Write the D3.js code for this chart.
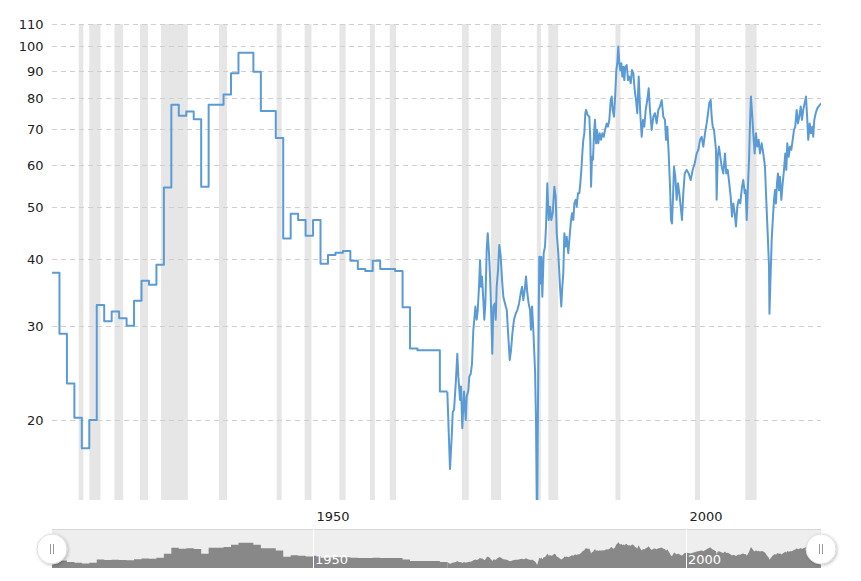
<!DOCTYPE html>
<html><head><meta charset="utf-8">
<script src="https://cdn.jsdelivr.net/npm/d3@7"></script>
<style>body{margin:0;background:#fff;} svg{display:block;font-family:"DejaVu Sans",Verdana,sans-serif;}</style>
</head><body><svg id="c" width="861" height="581"></svg>
<script>
// ---- DATA ----
const annualStartYear = 1915;
const annualValues = [37.7, 29.0, 23.4, 20.2, 17.7, 20.0, 32.8, 30.6, 31.9, 31.0,
  30.0, 33.4, 36.4, 35.8, 39.0, 54.4, 77.7, 74.1, 75.5, 73.0,
  54.6, 77.7, 77.7, 81.2, 89.0, 97.2, 97.2, 89.6, 75.6, 75.6,
  67.3, 43.7, 48.6, 47.3, 44.2, 47.3, 39.2, 40.7, 41.1, 41.4,
  39.7, 38.3, 38.0, 39.7, 38.3, 38.3, 38.0, 32.5, 27.2, 27.0,
  27.0, 27.0, 22.6];
const monthlyYears = [1968.00, 1968.27, 1968.36, 1968.59, 1968.73, 1968.90, 1969.13, 1969.34, 1969.48, 1969.71,
  1969.84, 1970.01, 1970.24, 1970.47, 1970.60, 1970.82, 1970.95, 1971.14, 1971.31, 1971.49,
  1971.62, 1971.76, 1971.94, 1972.08, 1972.25, 1972.39, 1972.52, 1972.65, 1972.83, 1972.96,
  1973.10, 1973.28, 1973.42, 1973.59, 1973.73, 1973.86, 1974.03, 1974.17, 1974.36, 1974.49,
  1974.62, 1974.80, 1974.97, 1975.16, 1975.34, 1975.51, 1975.74, 1975.97, 1976.18, 1976.37,
  1976.54, 1976.72, 1976.94, 1977.17, 1977.39, 1977.61, 1977.84, 1978.02, 1978.19, 1978.38,
  1978.55, 1978.73, 1978.91, 1979.09, 1979.22, 1979.36, 1979.53, 1979.76, 1979.89, 1980.03,
  1980.12, 1980.25, 1980.33, 1980.47, 1980.60, 1980.74, 1980.92, 1981.10, 1981.23, 1981.41,
  1981.59, 1981.77, 1981.94, 1982.13, 1982.35, 1982.53, 1982.67, 1982.88, 1983.11, 1983.28,
  1983.42, 1983.55, 1983.69, 1983.87, 1984.01, 1984.22, 1984.36, 1984.54, 1984.72, 1984.89,
  1985.03, 1985.21, 1985.35, 1985.52, 1985.70, 1985.83, 1985.97, 1986.10, 1986.23, 1986.37,
  1986.50, 1986.60, 1986.82, 1987.04, 1987.17, 1987.27, 1987.40, 1987.53, 1987.67, 1987.80,
  1987.94, 1988.07, 1988.24, 1988.43, 1988.61, 1988.78, 1988.97, 1989.14, 1989.37, 1989.54,
  1989.72, 1989.91, 1990.04, 1990.17, 1990.35, 1990.52, 1990.66, 1990.79, 1990.92, 1991.06,
  1991.19, 1991.33, 1991.46, 1991.59, 1991.73, 1991.86, 1992.05, 1992.23, 1992.40, 1992.59,
  1992.76, 1992.94, 1993.12, 1993.30, 1993.47, 1993.66, 1993.87, 1994.06, 1994.24, 1994.41,
  1994.60, 1994.81, 1995.00, 1995.17, 1995.40, 1995.62, 1995.84, 1996.07, 1996.29, 1996.51,
  1996.74, 1996.96, 1997.18, 1997.32, 1997.49, 1997.68, 1997.86, 1997.99, 1998.12, 1998.26,
  1998.39, 1998.57, 1998.75, 1998.93, 1999.10, 1999.29, 1999.46, 1999.64, 1999.83, 2000.09,
  2000.36, 2000.63, 2000.90, 2001.17, 2001.43, 2001.65, 2001.88, 2002.10, 2002.32, 2002.55,
  2002.77, 2002.95, 2003.12, 2003.31, 2003.44, 2003.58, 2003.75, 2003.89, 2004.02, 2004.11,
  2004.25, 2004.42, 2004.60, 2004.79, 2005.00, 2005.23, 2005.40, 2005.59, 2005.80, 2005.99,
  2006.17, 2006.34, 2006.53, 2006.70, 2006.88, 2007.06, 2007.28, 2007.51, 2007.68, 2007.87,
  2008.00, 2008.14, 2008.27, 2008.45, 2008.58, 2008.71, 2008.89, 2009.02, 2009.21, 2009.38,
  2009.56, 2009.74, 2009.92, 2010.15, 2010.36, 2010.59, 2010.76, 2010.95, 2011.13, 2011.19,
  2011.35, 2011.49, 2011.66, 2011.80, 2011.93, 2012.06, 2012.20, 2012.33, 2012.47, 2012.60,
  2012.78, 2012.96, 2013.14, 2013.31, 2013.45, 2013.58, 2013.77, 2013.94, 2014.12, 2014.30,
  2014.48, 2014.65, 2014.84, 2015.01, 2015.19, 2015.38, 2015.55, 2015.72, 2015.91, 2016.09,
  2016.26, 2016.39, 2016.58, 2016.76, 2016.93, 2017.06, 2017.20, 2017.39, 2017.60, 2017.92,
  2018.10];
const monthlyValues = [22.6, 17.6, 16.2, 18.6, 20.7, 20.9, 23.4, 26.6, 24.1, 21.8,
  23.1, 19.3, 22.6, 20.0, 22.1, 22.7, 24.1, 24.4, 25.5, 29.5,
  30.8, 32.6, 30.8, 32.1, 35.5, 39.8, 35.5, 37.1, 33.5, 30.8,
  33.0, 41.6, 44.7, 41.0, 37.1, 32.6, 26.6, 32.6, 33.0, 30.8,
  35.5, 38.1, 42.5, 40.4, 36.5, 34.0, 33.0, 32.1, 28.6, 25.9,
  27.0, 29.0, 30.8, 31.6, 32.1, 33.0, 34.5, 35.5, 33.5, 35.0,
  37.1, 34.5, 33.0, 32.1, 29.5, 32.6, 29.5, 24.8, 20.0, 12.0,
  18.6, 30.8, 40.4, 36.0, 40.4, 34.0, 41.0, 42.2, 46.0, 55.4,
  47.3, 50.1, 47.3, 48.7, 54.6, 52.3, 44.7, 41.0, 35.5, 32.6,
  35.5, 37.6, 44.7, 42.2, 44.0, 41.0, 43.4, 46.6, 48.7, 47.3,
  50.8, 51.6, 50.1, 53.1, 53.1, 55.4, 58.7, 63.0, 66.8, 68.7,
  74.9, 76.0, 74.3, 73.8, 66.8, 54.6, 62.1, 61.3, 68.7, 72.8,
  65.8, 69.7, 65.8, 68.7, 66.8, 68.7, 67.7, 69.7, 71.7, 70.7,
  72.8, 79.3, 80.5, 76.0, 73.8, 81.6, 90.2, 92.9, 99.8, 92.9,
  90.2, 92.9, 87.7, 91.5, 86.4, 91.5, 92.2, 86.4, 87.7, 85.2,
  90.2, 89.0, 82.8, 79.3, 74.9, 87.7, 74.9, 67.7, 72.8, 70.7,
  76.0, 79.3, 83.4, 76.0, 69.7, 73.8, 74.9, 71.7, 76.0, 77.1,
  79.3, 73.8, 72.8, 66.8, 70.7, 63.0, 54.6, 47.3, 46.6, 52.3,
  59.5, 57.0, 51.6, 55.4, 53.1, 50.1, 47.3, 53.1, 57.8, 58.7,
  57.8, 56.2, 58.7, 60.4, 63.0, 64.0, 66.8, 67.7, 64.9, 68.7,
  71.7, 74.9, 78.2, 79.3, 73.8, 70.7, 69.7, 66.8, 64.0, 51.6,
  62.1, 64.9, 62.1, 59.5, 57.8, 63.0, 57.8, 58.7, 55.4, 52.3,
  48.0, 50.8, 48.7, 46.0, 50.1, 51.6, 50.8, 54.6, 56.2, 53.1,
  53.8, 47.3, 53.1, 61.3, 71.7, 80.5, 73.8, 68.7, 63.0, 68.7,
  64.9, 66.8, 63.0, 65.8, 63.0, 59.5, 51.6, 44.7, 38.7, 31.6,
  37.6, 43.4, 48.0, 51.6, 53.8, 50.8, 55.4, 57.8, 53.8, 57.0,
  51.6, 55.4, 58.7, 63.0, 58.7, 65.8, 62.1, 64.9, 64.0, 66.8,
  69.7, 70.7, 76.0, 71.7, 73.8, 77.1, 72.8, 76.0, 78.2, 80.5,
  72.8, 66.8, 71.7, 68.7, 70.7, 67.7, 72.8, 74.9, 76.5, 77.6,
  78.2];
const recessionStarts = [1918.58, 1920.00, 1923.37, 1926.79, 1929.62, 1937.37, 1945.12, 1948.87, 1953.54,
  1957.62, 1960.29, 1969.96, 1973.87, 1980.00, 1981.54, 1990.54, 2001.21, 2007.96];
const recessionEnds = [1919.21, 1921.50, 1924.54, 1927.87, 1933.21, 1938.46, 1945.79, 1949.79, 1954.37,
  1958.29, 1961.12, 1970.87, 1975.21, 1980.54, 1982.87, 1991.21, 2001.87, 2009.46];
const yTicks = [20, 30, 40, 50, 60, 70, 80, 90, 100, 110];
const xTicks = [1950, 2000];

// ---- CHART ----
const svg = d3.select("#c");
const P = {left: 52, right: 821, top: 24, bottom: 500};
const NAV = {top: 529, bottom: 568};
const x = d3.scaleLinear().domain([1915, 2018.1]).range([P.left, P.right]);
const y = d3.scaleLog().domain([14.17, 110]).range([P.bottom, P.top]);
const yNav = d3.scaleLinear().domain([0, 150]).range([NAV.bottom, NAV.top]);

const annual = annualValues.map((v, i) => ({t: annualStartYear + i, v}));
annual.push({t: monthlyYears[0], v: annualValues[annualValues.length - 1]});
const monthly = monthlyYears.map((t, i) => ({t, v: monthlyValues[i]}));

const defs = svg.append("defs");
defs.append("clipPath").attr("id", "clip").append("rect")
  .attr("x", P.left).attr("y", P.top).attr("width", P.right - P.left).attr("height", P.bottom - P.top);
const f = defs.append("filter").attr("id", "sh").attr("x", "-50%").attr("y", "-50%").attr("width", "200%").attr("height", "200%");
f.append("feDropShadow").attr("dx", 1).attr("dy", 1).attr("stdDeviation", 1.5).attr("flood-color", "#000").attr("flood-opacity", 0.25);

// recession bars
svg.append("g").selectAll("rect").data(recessionStarts).join("rect")
  .attr("x", (d) => x(d))
  .attr("width", (d, i) => x(recessionEnds[i]) - x(d))
  .attr("y", P.top).attr("height", P.bottom - P.top)
  .attr("fill", "#e6e6e6");

// y grid + labels
const yAxis = svg.append("g");
yAxis.selectAll("line").data(yTicks).join("line")
  .attr("x1", P.left).attr("x2", P.right)
  .attr("y1", (d) => Math.round(y(d)) + 0.5).attr("y2", (d) => Math.round(y(d)) + 0.5)
  .attr("stroke", "#cfcfcf").attr("stroke-width", 1).attr("stroke-dasharray", "5,4");
yAxis.selectAll("text").data(yTicks).join("text")
  .attr("x", 43.5).attr("y", (d) => y(d) + 5)
  .attr("text-anchor", "end").attr("font-size", 13).attr("fill", "#222")
  .text((d) => d);

// x labels
svg.append("g").selectAll("text").data(xTicks).join("text")
  .attr("x", (d) => x(d) + 20).attr("y", 520.5)
  .attr("text-anchor", "middle").attr("font-size", 13).attr("fill", "#222")
  .text((d) => d);

// series
const g = svg.append("g").attr("clip-path", "url(#clip)");
g.append("path").datum(annual)
  .attr("d", d3.line().x((d) => x(d.t)).y((d) => y(d.v)).curve(d3.curveStepAfter))
  .attr("fill", "none").attr("stroke", "#5b9bd5").attr("stroke-width", 2).attr("stroke-linejoin", "round");
g.append("path").datum(monthly)
  .attr("d", d3.line().x((d) => x(d.t)).y((d) => y(d.v)))
  .attr("fill", "none").attr("stroke", "#5b9bd5").attr("stroke-width", 2).attr("stroke-linejoin", "round");

// navigator
const nav = svg.append("g");
nav.append("rect").attr("x", P.left).attr("y", NAV.top).attr("width", P.right - P.left).attr("height", NAV.bottom - NAV.top)
  .attr("fill", "#eeeeee");
nav.append("line").attr("x1", P.left).attr("x2", P.right).attr("y1", NAV.top + 0.5).attr("y2", NAV.top + 0.5)
  .attr("stroke", "#d6d6d6");
nav.append("path").datum(annual)
  .attr("d", d3.area().x((d) => x(d.t)).y0(NAV.bottom).y1((d) => yNav(d.v)).curve(d3.curveStepAfter))
  .attr("fill", "#888888");
nav.append("path").datum(monthly)
  .attr("d", d3.area().x((d) => x(d.t)).y0(NAV.bottom).y1((d) => yNav(Math.max(d.v, 0))))
  .attr("fill", "#888888");
nav.selectAll("line.t").data(xTicks).join("line").attr("class", "t")
  .attr("x1", (d) => Math.round(x(d)) + 0.5).attr("x2", (d) => Math.round(x(d)) + 0.5)
  .attr("y1", NAV.top).attr("y2", NAV.bottom).attr("stroke", "#ffffff");
nav.selectAll("text").data(xTicks).join("text")
  .attr("x", (d) => x(d) + 2).attr("y", 563.5)
  .attr("font-size", 13).attr("fill", "#ffffff").text((d) => d);

// handles
const hs = nav.selectAll("g.h").data([x.range()[0], x.range()[1]]).join("g").attr("class", "h")
  .attr("transform", (d) => `translate(${d},549)`);
hs.append("circle").attr("r", 15).attr("fill", "#fff").attr("stroke", "#dddddd").attr("filter", "url(#sh)");
hs.append("line").attr("x1", -1.5).attr("x2", -1.5).attr("y1", -5).attr("y2", 5).attr("stroke", "#999");
hs.append("line").attr("x1", 1.5).attr("x2", 1.5).attr("y1", -5).attr("y2", 5).attr("stroke", "#999");
</script></body></html>
